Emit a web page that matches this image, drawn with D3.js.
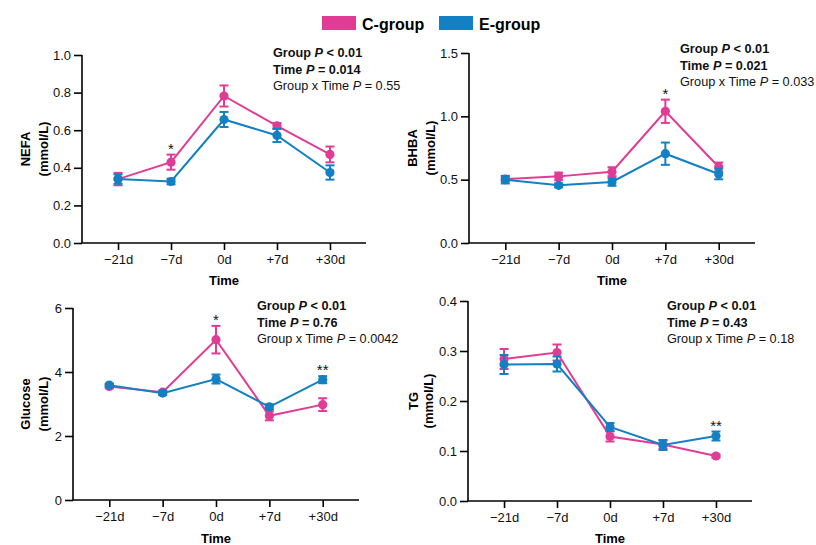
<!DOCTYPE html>
<html>
<head>
<meta charset="utf-8">
<script src="https://cdn.jsdelivr.net/npm/d3@7"></script>
<style>
  body { margin: 0; background: #fff; }
  svg { font-family: "Liberation Sans", Arial, sans-serif; }
</style>
</head>
<body>
<div id="myGraph"></div>
<script>
// data
var times = ["\u221221d", "\u22127d", "0d", "+7d", "+30d"]
var groups = ["C-group", "E-group"]
var colors = ["#e03c96", "#1380c4"]

var nefaC = [0.34, 0.43, 0.782, 0.623, 0.471]
var nefaCErr = [0.033, 0.04, 0.056, 0.015, 0.042]
var nefaE = [0.34, 0.327, 0.657, 0.572, 0.375]
var nefaEErr = [0.025, 0.015, 0.04, 0.035, 0.038]

var bhbaC = [0.505, 0.526, 0.563, 1.04, 0.6]
var bhbaCErr = [0.02, 0.03, 0.035, 0.092, 0.035]
var bhbaE = [0.5, 0.455, 0.482, 0.705, 0.545]
var bhbaEErr = [0.03, 0.015, 0.03, 0.088, 0.042]

var gluC = [3.55, 3.37, 5.01, 2.63, 2.98]
var gluCErr = [0.06, 0.05, 0.43, 0.14, 0.2]
var gluE = [3.59, 3.34, 3.78, 2.91, 3.76]
var gluEErr = [0.05, 0.06, 0.14, 0.08, 0.11]

var tgC = [0.284, 0.297, 0.129, 0.113, 0.09]
var tgCErr = [0.02, 0.016, 0.01, 0.008, 0.003]
var tgE = [0.273, 0.274, 0.148, 0.112, 0.13]
var tgEErr = [0.019, 0.015, 0.008, 0.01, 0.009]

var nefaTicks = [0, 0.2, 0.4, 0.6, 0.8, 1.0]
var bhbaTicks = [0, 0.5, 1.0, 1.5]
var gluTicks = [0, 2, 4, 6]
var tgTicks = [0, 0.1, 0.2, 0.3, 0.4]

var nefaSig = ["", "*", "", "", ""]
var bhbaSig = ["", "", "", "*", ""]
var gluSig = ["", "", "*", "", "**"]
var tgSig = ["", "", "", "", "**"]

var nefaStats = ["0.014", "0.55"]
var bhbaStats = ["0.021", "0.033"]
var gluStats = ["0.76", "0.0042"]
var tgStats = ["0.43", "0.18"]

var svg = d3.select("#myGraph")
  .append("svg")
    .attr("width", 816)
    .attr("height", 545)

// legend
var legend = svg.append("g")
groups.forEach(function(g, i) {
  var lx = i == 0 ? 322 : 439
  legend.append("rect")
    .attr("x", lx).attr("y", 16)
    .attr("width", 34).attr("height", 14)
    .attr("fill", colors[i])
  legend.append("text")
    .attr("x", lx + 40).attr("y", 30)
    .style("font-size", "16px")
    .style("font-weight", "bold")
    .text(g)
})

var drawPanel = function(p) {
  var g = svg.append("g")

  var x = d3.scalePoint()
    .domain(times)
    .range([p.x0, p.x1])
    .padding(0.68)

  var y = d3.scaleLinear()
    .domain([0, p.ticks[p.ticks.length - 1]])
    .range([p.y1, p.y0])

  // axes
  var yAxis = g.append("g")
    .attr("transform", "translate(" + p.x0 + ",0)")
    .call(d3.axisLeft(y).tickValues(p.ticks).tickSize(8).tickPadding(3)
      .tickFormat(p.fmt))
  var xAxis = g.append("g")
    .attr("transform", "translate(0," + p.y1 + ")")
    .call(d3.axisBottom(x).tickSize(7).tickPadding(5).tickSizeOuter(0))
  ;[yAxis, xAxis].forEach(function(a) {
    a.select(".domain").attr("stroke", "#000").attr("stroke-width", 1.6)
    a.selectAll(".tick line").attr("stroke", "#000").attr("stroke-width", 1.6)
    a.selectAll(".tick text")
      .attr("fill", "#111")
      .style("font-size", "13px")
      .style("font-family", "Liberation Sans, Arial, sans-serif")
  })
  yAxis.select(".domain").attr("d", "M0," + p.y1 + "V" + p.y0)
  xAxis.select(".domain").attr("d", "M" + p.x0 + ",0H" + p.x1)

  // axis titles
  var ymid = (p.y0 + p.y1) / 2
  g.append("text")
    .attr("transform", "translate(" + (p.x0 - p.lab1) + "," + ymid + ") rotate(-90)")
    .attr("text-anchor", "middle")
    .attr("dy", "0.35em")
    .style("font-size", "13px").style("font-weight", "bold")
    .text(p.name)
  g.append("text")
    .attr("transform", "translate(" + (p.x0 - p.lab2) + "," + ymid + ") rotate(-90)")
    .attr("text-anchor", "middle")
    .attr("dy", "0.35em")
    .style("font-size", "13px").style("font-weight", "bold")
    .text("(mmol/L)")
  g.append("text")
    .attr("x", x(times[2])).attr("y", p.timeY)
    .attr("text-anchor", "middle")
    .style("font-size", "13px").style("font-weight", "bold")
    .text("Time")

  // series: C first, E on top
  var series = [[p.c, p.cErr], [p.e, p.eErr]]
  series.forEach(function(s, k) {
    var pts = times.map(function(t, i) { return {t: t, v: s[0][i], e: s[1][i]} })
    var col = colors[k]
    g.append("path")
      .datum(pts)
      .attr("d", d3.line().x(function(d) { return x(d.t) }).y(function(d) { return y(d.v) }))
      .attr("fill", "none")
      .attr("stroke", col)
      .attr("stroke-width", 2)
    var bars = g.selectAll(null).data(pts).enter().append("g")
    bars.append("line")
      .attr("x1", function(d) { return x(d.t) }).attr("x2", function(d) { return x(d.t) })
      .attr("y1", function(d) { return y(d.v - d.e) }).attr("y2", function(d) { return y(d.v + d.e) })
      .attr("stroke", col).attr("stroke-width", 2)
    ;[-1, 1].forEach(function(sg) {
      bars.append("line")
        .attr("x1", function(d) { return x(d.t) - 4.5 }).attr("x2", function(d) { return x(d.t) + 4.5 })
        .attr("y1", function(d) { return y(d.v + sg * d.e) }).attr("y2", function(d) { return y(d.v + sg * d.e) })
        .attr("stroke", col).attr("stroke-width", 2)
    })
    bars.append("circle")
      .attr("cx", function(d) { return x(d.t) })
      .attr("cy", function(d) { return y(d.v) })
      .attr("r", 4.6)
      .attr("fill", col)
  })

  // significance marks
  times.forEach(function(t, i) {
    if (p.sig[i] == "") return
    var top = Math.max(p.c[i] + p.cErr[i], p.e[i] + p.eErr[i])
    g.append("text")
      .attr("x", x(t)).attr("y", y(top) - 1)
      .attr("text-anchor", "middle")
      .style("font-size", "15px")
      .attr("fill", "#111")
      .text(p.sig[i])
  })

  // stats text
  var st = g.append("g").style("font-size", "12.7px").attr("fill", "#111")
  var l1 = st.append("text").attr("x", p.sx).attr("y", p.sy).style("font-weight", "bold")
  l1.append("tspan").text("Group ")
  l1.append("tspan").style("font-style", "italic").text("P")
  l1.append("tspan").text(" < 0.01")
  var l2 = st.append("text").attr("x", p.sx).attr("y", p.sy + 16.5).style("font-weight", "bold")
  l2.append("tspan").text("Time ")
  l2.append("tspan").style("font-style", "italic").text("P")
  l2.append("tspan").text(" = " + p.stats[0])
  var l3 = st.append("text").attr("x", p.sx).attr("y", p.sy + 33)
  l3.append("tspan").text("Group x Time ")
  l3.append("tspan").style("font-style", "italic").text("P")
  l3.append("tspan").text(" = " + p.stats[1])
}

var f1 = d3.format(".1f")
var f0 = d3.format("d")

drawPanel({name: "NEFA", c: nefaC, cErr: nefaCErr, e: nefaE, eErr: nefaEErr, ticks: nefaTicks, fmt: f1,
  sig: nefaSig, stats: nefaStats, x0: 82, x1: 366, y0: 55, y1: 243, lab1: 57, lab2: 39, timeY: 285, sx: 273, sy: 57})
drawPanel({name: "BHBA", c: bhbaC, cErr: bhbaCErr, e: bhbaE, eErr: bhbaEErr, ticks: bhbaTicks, fmt: f1,
  sig: bhbaSig, stats: bhbaStats, x0: 469, x1: 755, y0: 53, y1: 243, lab1: 57, lab2: 39, timeY: 285, sx: 680, sy: 53})
drawPanel({name: "Glucose", c: gluC, cErr: gluCErr, e: gluE, eErr: gluEErr, ticks: gluTicks, fmt: f0,
  sig: gluSig, stats: gluStats, x0: 73, x1: 359, y0: 308, y1: 500, lab1: 48, lab2: 30, timeY: 543, sx: 257, sy: 310})
drawPanel({name: "TG", c: tgC, cErr: tgCErr, e: tgE, eErr: tgEErr, ticks: tgTicks, fmt: f1,
  sig: tgSig, stats: tgStats, x0: 468, x1: 752, y0: 301, y1: 501, lab1: 55, lab2: 40, timeY: 543, sx: 667, sy: 310})
</script>
</body>
</html>
